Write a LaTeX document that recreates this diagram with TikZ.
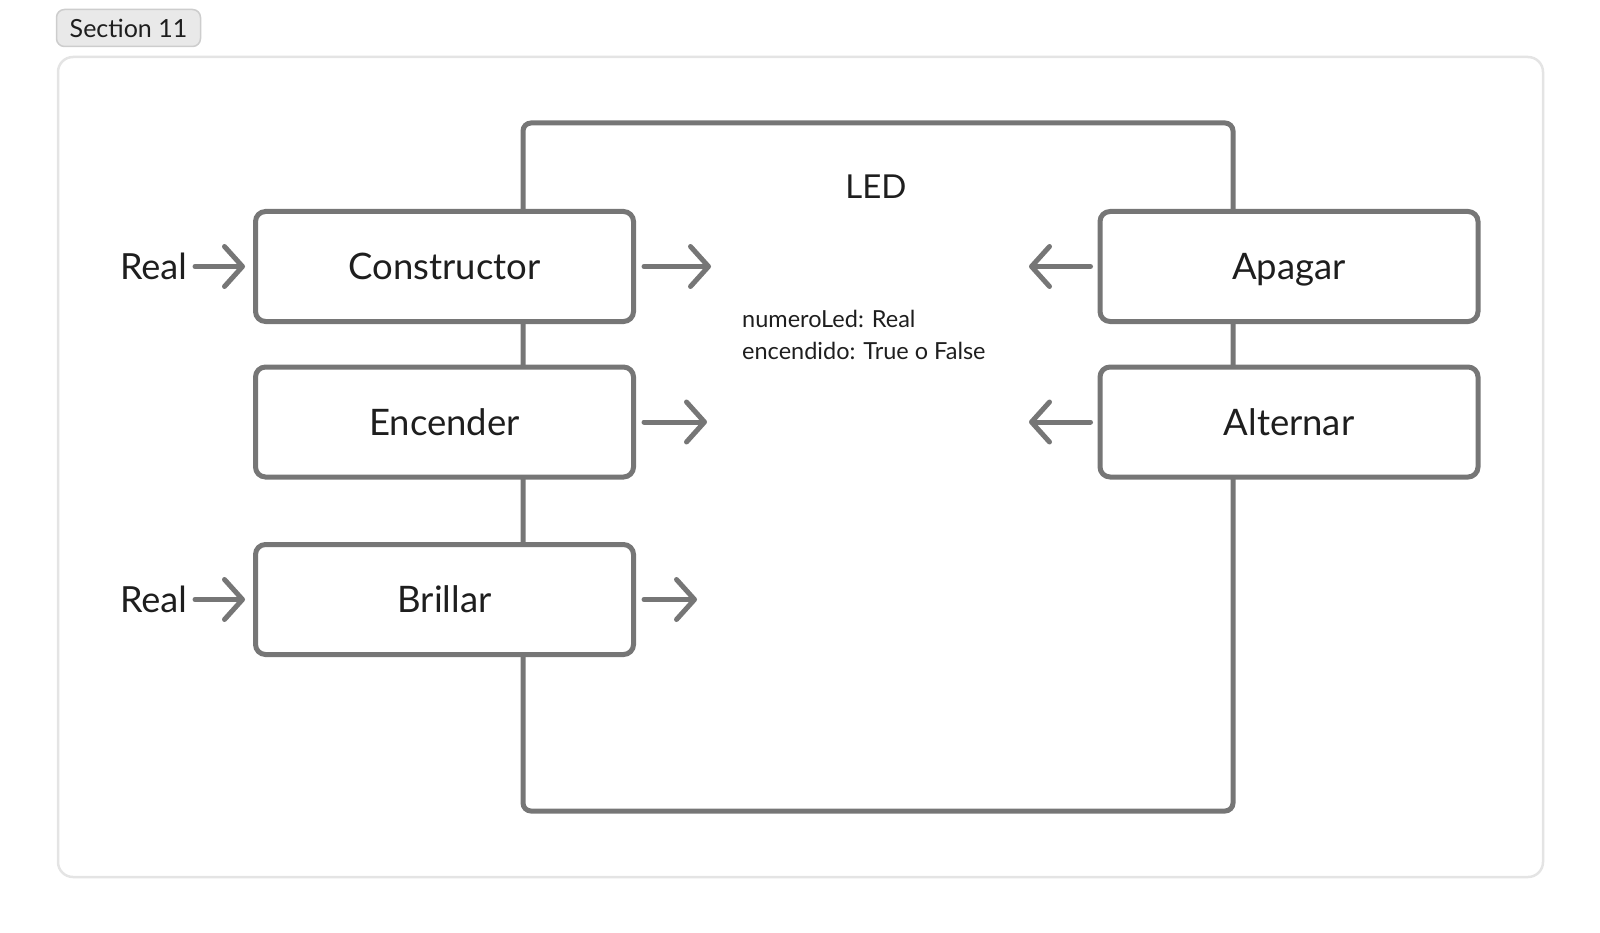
\documentclass[tikz,border=0pt]{standalone}
\usepackage{fontspec}
\setmainfont{Lato}
\usetikzlibrary{arrows.meta,positioning}
\definecolor{linegray}{HTML}{767676}
\definecolor{framegray}{HTML}{E4E4E4}
\definecolor{tagfill}{HTML}{E9E9E9}
\definecolor{tagline}{HTML}{CDCDCD}
\definecolor{textdark}{HTML}{1E1E1E}

\tikzset{
  method/.style={draw=linegray, line width=5pt, rounded corners=10pt, fill=white,
    minimum width=378pt, minimum height=110pt, inner sep=0pt, text=textdark,
    text height=26pt, text depth=0pt, font=\fontsize{36.5}{44}\selectfont},
  flow/.style={draw=linegray, line width=5pt, line cap=round,
    -{Straight Barb[length=18pt,width=40pt,round]}},
  inlabel/.style={text=textdark, font=\fontsize{36}{44}\selectfont, inner sep=0pt},
}

\begin{document}
\begin{tikzpicture}[x=1pt,y=-1pt]
\useasboundingbox (0,0) rectangle (1600,933);

% section frame and tag
\draw[framegray, line width=2.5pt, rounded corners=15pt] (58,57) rectangle (1543,877);
\node[draw=tagline, fill=tagfill, line width=1.5pt, rounded corners=8pt,
  minimum width=144pt, minimum height=37pt, inner sep=0pt, text=textdark,
  font=\fontsize{25}{30}\selectfont] (tag) at (128.5,28) {Section 11};

% class box LED
\draw[linegray, line width=5pt, rounded corners=8pt] (523,123) rectangle (1233,811);
\node[text=textdark, font=\fontsize{33}{38}\selectfont, inner sep=0pt] (led) at (876,187) {LED};
\node[text=textdark, font=\fontsize{23.5}{32}\selectfont, align=left, anchor=north west,
  inner sep=0pt] (attrs) at (742,310) {numeroLed: Real\\encendido: True o False};

% methods
\node[method] (ctor) at (444.5,266.5) {Constructor};
\node[method] (encender) at (444.5,422) {Encender};
\node[method] (brillar) at (444.5,599.5) {Brillar};
\node[method] (apagar) at (1289,266.5) {Apagar};
\node[method] (alternar) at (1289,422) {Alternar};

% inputs
\node[inlabel, anchor=east] (realctor) at (187,266.5) {Real};
\node[inlabel, anchor=east] (realbrillar) at (187,599.5) {Real};
\draw[flow, shorten <=8pt, shorten >=8pt] (realctor.east) -- (ctor.west);
\draw[flow, shorten <=8pt, shorten >=8pt] (realbrillar.east) -- (brillar.west);

% arrows into the class
\coordinate (ctorin) at (711,266.5);
\coordinate (encenderin) at (707,422);
\coordinate (brillarin) at (697,599.5);
\coordinate (apagarin) at (1029,266.5);
\coordinate (alternarin) at (1029,422);
\draw[flow, shorten <=8pt] (ctor.east) -- (ctorin);
\draw[flow, shorten <=8pt] (encender.east) -- (encenderin);
\draw[flow, shorten <=8pt] (brillar.east) -- (brillarin);
\draw[flow, shorten <=7pt] (apagar.west) -- (apagarin);
\draw[flow, shorten <=7pt] (alternar.west) -- (alternarin);
\end{tikzpicture}
\end{document}
